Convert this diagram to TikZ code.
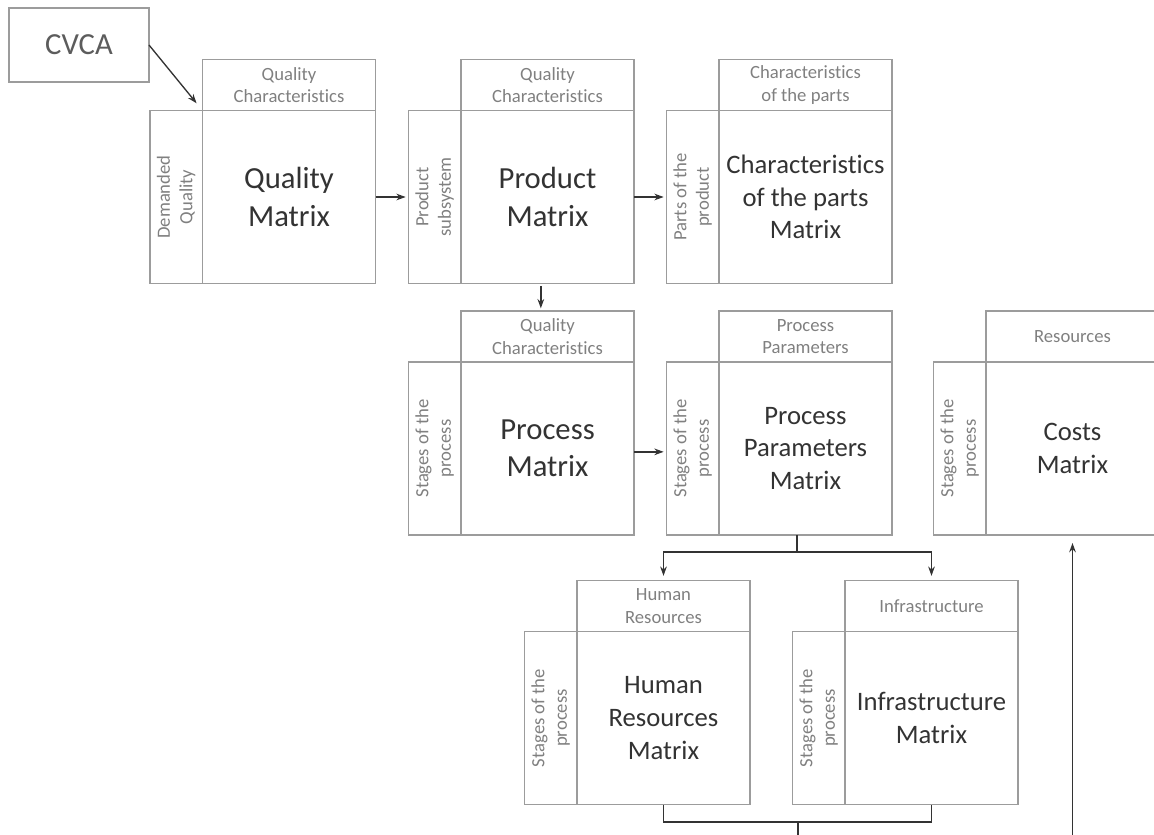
\documentclass[tikz,border=0pt]{standalone}
\usepackage{fontspec}
\setmainfont{Carlito}[Ligatures={NoCommon}]
\usetikzlibrary{arrows.meta,positioning}

\definecolor{boxgray}{HTML}{9C9C9C}
\definecolor{labelgray}{HTML}{808080}
\definecolor{inkgray}{HTML}{333333}

\begin{document}
\begin{tikzpicture}[x=0.75pt,y=-0.75pt,
        every node/.style={inner sep=0pt,outer sep=0pt},
        box/.style={draw=boxgray,line width=1.1pt},
        body/.style={box,minimum width=129.75pt,minimum height=129.75pt,align=center,
            text=inkgray,font=\fontsize{23}{28}\selectfont},
        small body/.style={body,font=\fontsize{20}{24.5}\selectfont},
        head/.style={box,minimum width=129.75pt,minimum height=38.25pt,align=center,
            text=labelgray,font=\fontsize{14}{17}\selectfont},
        side/.style={box,rotate=90,anchor=south,minimum width=129.75pt,minimum height=39.5pt,
            align=center,text=labelgray,font=\fontsize{14}{17}\selectfont},
        link/.style={draw=inkgray,line width=1pt},
        arr/.style={link,-{Stealth[length=7pt,width=5pt]}}]
    \useasboundingbox (0,0) rectangle (1154,835);
    \clip (0,0) rectangle (1154,835);

    % first row
    \node[box,minimum width=105pt,minimum height=55.5pt,text=inkgray!80,
        font=\fontsize{23}{28}\selectfont] (cvca) at (79,45) {CVCA};
    \node[body] (quality) at (289,197) {Quality\\Matrix};
    \node[head,above=0pt of quality] (quality-h) {Quality\\Characteristics};
    \node[side] (quality-s) at (quality.west) {Demanded\\Quality};

    \node[body] (product) at (547.5,197) {Product\\Matrix};
    \node[head,above=0pt of product] (product-h) {Quality\\Characteristics};
    \node[side] (product-s) at (product.west) {Product\\subsystem};

    \node[small body] (parts) at (805.5,197) {Characteristics\\of the parts\\Matrix};
    \node[head,above=0pt of parts] (parts-h) {Characteristics\\of the parts};
    \node[side] (parts-s) at (parts.west) {Parts of the\\product};

    % second row
    \node[body] (process) at (547.5,448.5) {Process\\Matrix};
    \node[head,above=0pt of process] (process-h) {Quality\\Characteristics};
    \node[side] (process-s) at (process.west) {Stages of the\\process};

    \node[small body] (param) at (805.5,448.5) {Process\\Parameters\\Matrix};
    \node[head,above=0pt of param] (param-h) {Process\\Parameters};
    \node[side] (param-s) at (param.west) {Stages of the\\process};

    \node[small body] (costs) at (1072.5,448.5) {Costs\\Matrix};
    \node[head,above=0pt of costs] (costs-h) {Resources};
    \node[side] (costs-s) at (costs.west) {Stages of the\\process};

    % third row
    \node[small body] (human) at (663.5,718) {Human\\Resources\\Matrix};
    \node[head,above=0pt of human] (human-h) {Human\\Resources};
    \node[side] (human-s) at (human.west) {Stages of the\\process};

    \node[small body] (infra) at (931.5,718) {Infrastructure\\Matrix};
    \node[head,above=0pt of infra] (infra-h) {Infrastructure};
    \node[side] (infra-s) at (infra.west) {Stages of the\\process};

    % connectors
    \draw[arr,shorten >=7pt] (cvca.east) -- (quality.north west);
    \draw[arr,shorten >=2pt] (quality) -- (product-s);
    \draw[arr,shorten >=2pt] (product) -- (parts-s);
    \draw[arr,shorten <=2pt,shorten >=2pt] ([xshift=-5pt]product.south) -- ([xshift=-5pt]process-h.north);
    \draw[arr,shorten >=2pt] ([yshift=-2.5pt]process.east) -- ([yshift=-2.5pt]param-s.north);

    \coordinate (split) at (797,552);
    \draw[link] (param.south -| split) -- (split);
    \draw[arr,shorten >=3.5pt] (split) -| (human-h);
    \draw[arr,shorten >=3.5pt] (split) -| (infra-h);

    \coordinate (merge) at (798,822);
    \coordinate (down) at (798,850);
    \coordinate (up) at (costs.south |- down);
    \draw[link] (human) |- (merge) -| (infra);
    \draw[link] (merge) -- (down);
    \draw[arr,shorten >=6pt] (up) -- (costs);
\end{tikzpicture}
\end{document}
